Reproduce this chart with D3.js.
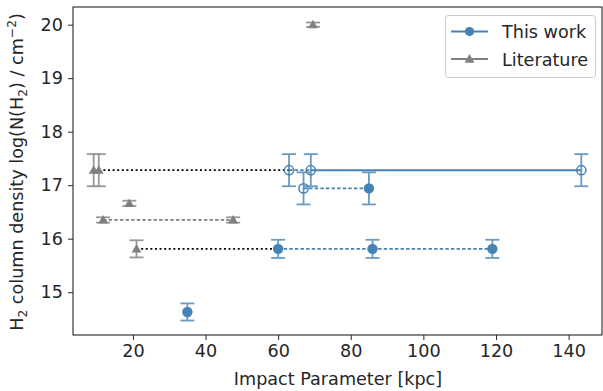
<!DOCTYPE html>
<html>
<head>
<meta charset="utf-8">
<script src="https://cdn.jsdelivr.net/npm/d3@7"></script>
<style>
  html, body { margin: 0; padding: 0; background: #fff; }
  svg { display: block; font-family: "DejaVu Sans", sans-serif; }
</style>
</head>
<body>
<svg id="chart" width="603" height="391"></svg>
<script>
// H2 column densities against impact parameter
const workX    = [35, 60, 86, 119, 63, 69, 143.5, 67, 85];
const workY    = [14.63, 15.81, 15.81, 15.81, 17.28, 17.28, 17.28, 16.94, 16.94];
const workErr  = [0.16, 0.17, 0.17, 0.17, 0.3, 0.3, 0.3, 0.3, 0.3];
const workOpen = [false, false, false, false, true, true, true, true, false];

const litX   = [69.6, 9.2, 10.6, 19, 11.8, 47.6, 21];
const litY   = [20.0, 17.28, 17.28, 16.66, 16.35, 16.35, 15.81];
const litErr = [0.04, 0.3, 0.3, 0.05, 0.05, 0.05, 0.16];

// connecting lines between measurements of the same system
const joins = [
  ["lit", 2, "work", 4, "black"],
  ["work", 4, "work", 5, "bluedash"],
  ["work", 5, "work", 6, "solid"],
  ["work", 7, "work", 8, "bluedash"],
  ["work", 1, "work", 2, "bluedash"],
  ["work", 2, "work", 3, "bluedash"],
  ["lit", 4, "lit", 5, "graydash"],
  ["lit", 6, "work", 1, "black"]
];

const xTicks = [20, 40, 60, 80, 100, 120, 140];
const yTicks = [15, 16, 17, 18, 19, 20];

const BLUE = "#4682b4", GRAY = "#808080", INK = "#262626";
const FS = 17.6;
const svg = d3.select("#chart");
const m = { left: 73, right: 602, top: 7, bottom: 335 };

const x = d3.scaleLinear().domain([3.5, 149.2]).range([m.left, m.right]);
const y = d3.scaleLinear().domain([14.2, 20.33]).range([m.bottom, m.top]);

const pt = (set, i) => set === "work" ? [workX[i], workY[i]] : [litX[i], litY[i]];

const styles = {
  black:    { stroke: "#000", dash: "2,2.6", width: 1.8 },
  bluedash: { stroke: BLUE, dash: "3.4,2.2", width: 1.8 },
  graydash: { stroke: GRAY, dash: "3.4,2.2", width: 1.8 },
  solid:    { stroke: BLUE, dash: null, width: 2 }
};

// connector lines
svg.append("g").selectAll("line").data(joins).join("line")
  .attr("x1", d => x(pt(d[0], d[1])[0]))
  .attr("y1", d => y(pt(d[0], d[1])[1]))
  .attr("x2", d => x(pt(d[2], d[3])[0]))
  .attr("y2", d => y(pt(d[2], d[3])[1]))
  .attr("stroke", d => styles[d[4]].stroke)
  .attr("stroke-width", d => styles[d[4]].width)
  .attr("stroke-dasharray", d => styles[d[4]].dash);

// error bars with caps
function errorBars(xs, ys, errs, color) {
  const g = svg.append("g").attr("stroke", color).attr("stroke-width", 1.8).attr("opacity", 0.8);
  xs.forEach((xv, i) => {
    const cx = x(xv), y0 = y(ys[i] - errs[i]), y1 = y(ys[i] + errs[i]);
    g.append("line").attr("x1", cx).attr("x2", cx).attr("y1", y0).attr("y2", y1);
    g.append("line").attr("x1", cx - 7).attr("x2", cx + 7).attr("y1", y0).attr("y2", y0);
    g.append("line").attr("x1", cx - 7).attr("x2", cx + 7).attr("y1", y1).attr("y2", y1);
  });
}
errorBars(litX, litY, litErr, GRAY);
errorBars(workX, workY, workErr, BLUE);

// markers
const tri = d3.symbol().type(d3.symbolTriangle).size(42);
svg.append("g").selectAll("path").data(litX).join("path")
  .attr("d", tri)
  .attr("transform", (d, i) => `translate(${x(d)},${y(litY[i]) + 0.8})`)
  .attr("fill", GRAY);

svg.append("g").selectAll("circle").data(workX).join("circle")
  .attr("cx", d => x(d))
  .attr("cy", (d, i) => y(workY[i]))
  .attr("r", (d, i) => workOpen[i] ? 4.6 : 5.2)
  .attr("fill", (d, i) => workOpen[i] ? "none" : BLUE)
  .attr("stroke", BLUE)
  .attr("stroke-width", (d, i) => workOpen[i] ? 1.5 : 0);

// axes
const xAxis = svg.append("g").attr("transform", `translate(0,${m.bottom})`)
  .call(d3.axisBottom(x).tickValues(xTicks).tickSize(5).tickPadding(5));
const yAxis = svg.append("g").attr("transform", `translate(${m.left},0)`)
  .call(d3.axisLeft(y).tickValues(yTicks).tickFormat(d3.format("d")).tickSize(5).tickPadding(5));
[xAxis, yAxis].forEach(a => {
  a.select(".domain").remove();
  a.selectAll("text").attr("font-size", FS).attr("fill", INK).attr("font-family", "DejaVu Sans");
  a.selectAll("line").attr("stroke", INK);
});

// frame
svg.append("rect")
  .attr("x", m.left).attr("y", m.top)
  .attr("width", m.right - m.left).attr("height", m.bottom - m.top)
  .attr("fill", "none").attr("stroke", INK).attr("stroke-width", 1.1);

// axis titles
svg.append("text")
  .attr("x", 338).attr("y", 385)
  .attr("text-anchor", "middle").attr("font-size", FS).attr("fill", INK)
  .text("Impact Parameter [kpc]");

const yl = svg.append("text")
  .attr("transform", `translate(23,${(m.top + m.bottom) / 2 + 1}) rotate(-90)`)
  .attr("text-anchor", "middle").attr("font-size", FS).attr("fill", INK);
yl.append("tspan").text("H");
yl.append("tspan").attr("font-size", 12.3).attr("dy", 4).text("2");
yl.append("tspan").attr("dy", -4).text(" column density log(N(H");
yl.append("tspan").attr("font-size", 12.3).attr("dy", 4).text("2");
yl.append("tspan").attr("dy", -4).text(") / cm");
yl.append("tspan").attr("font-size", 12.3).attr("dy", -7.5).text("−2");
yl.append("tspan").attr("dy", 7.5).text(")");

// legend
const lg = svg.append("g");
lg.append("rect").attr("x", 445.5).attr("y", 15.5).attr("width", 150).attr("height", 62)
  .attr("rx", 3).attr("fill", "#fff").attr("fill-opacity", 0.8).attr("stroke", "#cccccc");
const entries = [
  { label: "This work", color: BLUE, shape: "circle", yy: 31.5 },
  { label: "Literature", color: GRAY, shape: "tri", yy: 59 }
];
entries.forEach(e => {
  lg.append("line").attr("x1", 451).attr("x2", 488).attr("y1", e.yy).attr("y2", e.yy)
    .attr("stroke", e.color).attr("stroke-width", 2);
  if (e.shape === "circle") {
    lg.append("circle").attr("cx", 469.5).attr("cy", e.yy).attr("r", 4.6).attr("fill", e.color);
  } else {
    lg.append("path").attr("d", tri).attr("transform", `translate(469.5,${e.yy + 0.8})`).attr("fill", e.color);
  }
  lg.append("text").attr("x", 502).attr("y", e.yy + 6.5).attr("font-size", FS)
    .attr("fill", INK).text(e.label);
});
</script>
</body>
</html>
